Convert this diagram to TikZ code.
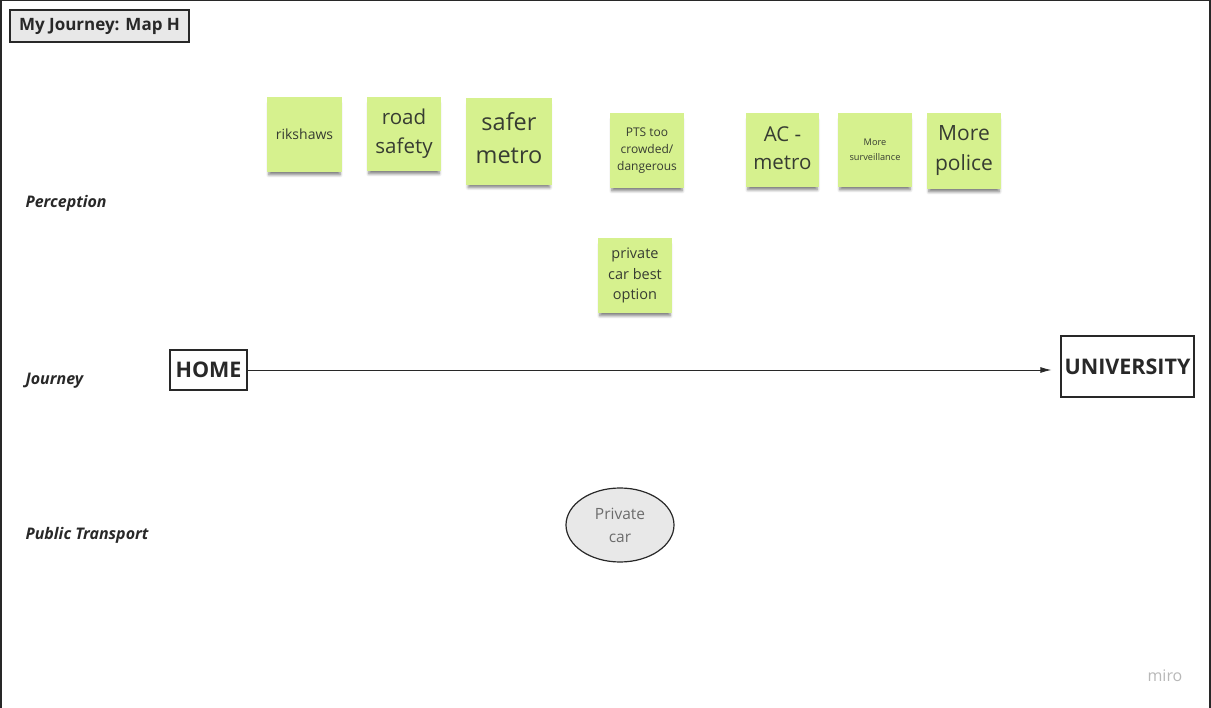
\documentclass[tikz,border=0pt]{standalone}
\usepackage{fontspec}
\setmainfont{Open Sans}
\usetikzlibrary{arrows.meta,shapes.geometric,shadows.blur}
\definecolor{sticky}{RGB}{214,241,142}
\definecolor{boxgray}{RGB}{232,232,232}
\definecolor{inkdark}{RGB}{40,40,40}
\definecolor{notetext}{RGB}{55,60,50}
\tikzset{
  note/.style={fill=sticky, draw=none, inner sep=0pt, align=center,
    text=notetext,
    blur shadow={shadow xshift=0pt, shadow yshift=-5pt, shadow opacity=50,
      shadow scale=0.95, shadow blur steps=6, shadow blur radius=3pt}},
  lane/.style={anchor=west, font=\fontsize{16}{18}\selectfont\bfseries\itshape, text=inkdark},
  place/.style={draw=inkdark, line width=1.3pt, fill=white, inner sep=0pt,
    font=\fontsize{21.5}{25}\selectfont\bfseries, text=inkdark}
}
\begin{document}
\begin{tikzpicture}[x=1pt,y=-1pt]
\useasboundingbox (0,0) rectangle (1211,708);
% outer frame
\draw[inkdark, line width=1.5pt] (0.75,708) -- (0.75,0.75) -- (1210,0.75) -- (1210,708);

% title
\node[draw=inkdark, line width=1.2pt, fill=boxgray, minimum width=179pt, minimum height=32pt,
  inner sep=0pt, font=\fontsize{17}{19}\selectfont\bfseries, text=inkdark] (title) at (99.5,26) {My Journey: Map H};

% lane labels
\node[lane] (perc) at (22,203) {Perception};
\node[lane] (jour) at (22,381) {Journey};
\node[lane] (pubt) at (22,535) {Public Transport};

% sticky notes
\node[note, minimum width=75pt, minimum height=75pt, font=\fontsize{14}{17}\selectfont] (n1) at (304.5,134.5) {rikshaws};
\node[note, minimum width=74pt, minimum height=74pt, font=\fontsize{20.5}{29}\selectfont] (n2) at (404,134) {road\\safety};
\node[note, minimum width=86pt, minimum height=87pt, font=\fontsize{23.5}{33}\selectfont] (n3) at (509,141.5) {\parbox{80pt}{\centering safer\\metro\par\vspace{6pt}}};
\node[note, minimum width=74pt, minimum height=75pt, font=\fontsize{12}{17}\selectfont] (n4) at (647,150.5) {PTS too\\crowded/\\dangerous};
\node[note, minimum width=73pt, minimum height=74pt, font=\fontsize{20.5}{28}\selectfont] (n5) at (782.5,150) {\parbox{70pt}{\centering AC -\\metro\par\vspace{4pt}}};
\node[note, minimum width=74pt, minimum height=74pt, font=\fontsize{9.2}{15}\selectfont] (n6) at (875,150) {More\\surveillance};
\node[note, minimum width=74pt, minimum height=76pt, font=\fontsize{21}{30}\selectfont] (n7) at (964,151) {More\\police};
\node[note, minimum width=74pt, minimum height=75pt, font=\fontsize{14.5}{20.5}\selectfont] (n8) at (635,275.5) {private\\car best\\option};

% journey
\node[place, minimum width=77pt, minimum height=40pt] (home) at (208.5,370) {HOME};
\node[place, minimum width=133pt, minimum height=61pt] (uni) at (1127.5,366.5) {UNIVERSITY};
\draw[inkdark, line width=0.8pt, -{Latex[length=11pt,width=6pt]}, shorten >=9pt]
  (home.east) -- (home.east -| uni.west);

% transport mode
\node[ellipse, draw=inkdark, line width=1.2pt, fill=boxgray, minimum width=108pt, minimum height=74pt,
  inner sep=0pt, align=center, text=gray!85!black, font=\fontsize{15.5}{23}\selectfont] (car) at (620,525) {Private\\car};

% watermark
\node[text=black!28, font=\fontsize{16}{18}\selectfont] (miro) at (1165,676) {miro};
\end{tikzpicture}
\end{document}
